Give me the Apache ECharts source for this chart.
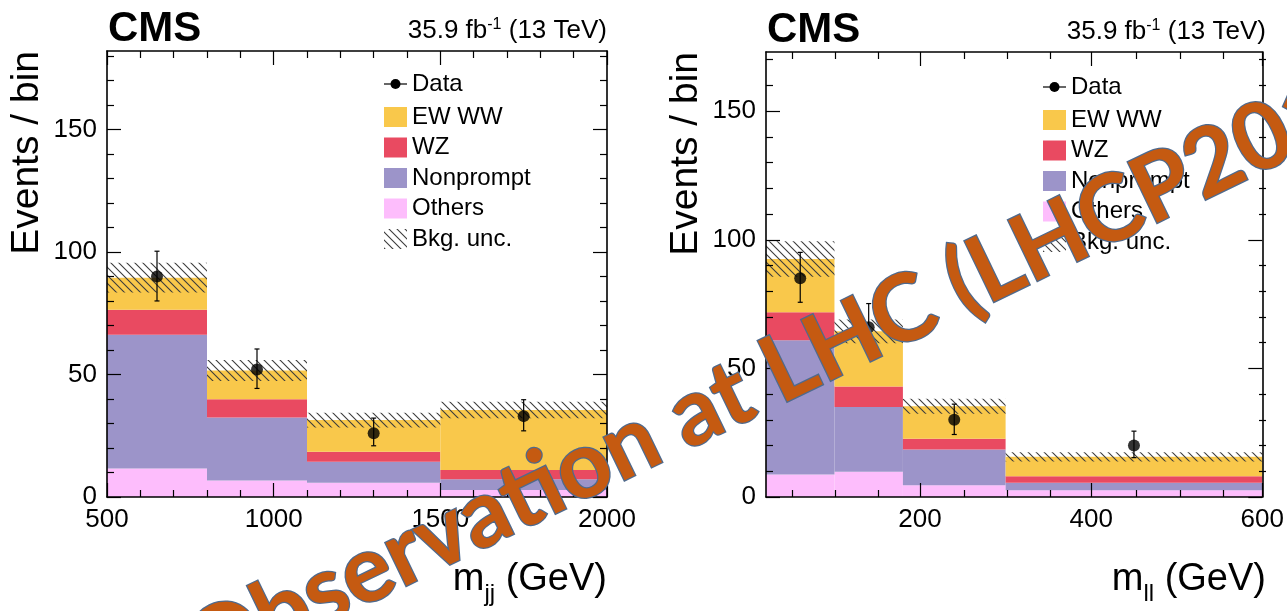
<!DOCTYPE html>
<html>
<head>
<meta charset="utf-8">
<script src="https://cdn.jsdelivr.net/npm/echarts@6/dist/echarts.min.js"></script>
<style>
  html, body { margin: 0; padding: 0; background: #ffffff; }
  #chart { width: 1287px; height: 611px; }
</style>
</head>
<body>
<div id="chart"></div>
<script>
// ---- m_jj distribution (left panel) ----
const mjjEdges      = [500, 800, 1100, 1500, 2000];
const mjjOthers     = [11.6, 6.7, 5.8, 2.9];
const mjjNonprompt  = [54.6, 25.7, 8.6, 4.3];
const mjjWZ         = [10.2, 7.5, 4.1, 3.8];
const mjjEWWW       = [13.1, 11.7, 12.9, 24.5];
const mjjBkgUnc     = [6.1, 4.3, 3.0, 3.4];
const mjjData       = [90, 52, 26, 33];
const mjjDataErrUp  = [10.3, 8.4, 6.2, 6.7];
const mjjDataErrDn  = [10.0, 7.7, 5.1, 6.0];
const mjjTickLabels = [500, 1000, 1500, 2000];

// ---- m_ll distribution (right panel) ----
const mllEdges      = [20, 100, 180, 300, 600];
const mllOthers     = [8.7, 9.8, 4.6, 2.6];
const mllNonprompt  = [52.2, 25.2, 13.9, 2.9];
const mllWZ         = [10.9, 8.0, 4.1, 2.6];
const mllEWWW       = [20.7, 21.4, 12.7, 7.5];
const mllBkgUnc     = [6.9, 4.6, 2.9, 1.8];
const mllData       = [85, 66, 30, 20];
const mllDataErrUp  = [10.1, 9.2, 6.1, 5.6];
const mllDataErrDn  = [9.3, 8.1, 5.7, 4.7];
const mllTickLabels = [200, 400, 600];

const yTickLabels   = [0, 50, 100, 150];
const legendNames   = ['Data', 'EW WW', 'WZ', 'Nonprompt', 'Others', 'Bkg. unc.'];

const FONT = "'Liberation Sans', Arial, Helvetica, sans-serif";
const COLORS = { ewww: '#F9C84B', wz: '#E94A61', nonprompt: '#9C94C9', others: '#FDBDFC' };

const measureCtx = document.createElement('canvas').getContext('2d');
function textWidth(str, font) { measureCtx.font = font; return measureCtx.measureText(str).width; }

function binCenters(edges) { return edges.slice(0, -1).map((e, i) => (e + edges[i + 1]) / 2); }

// stacked layers, bottom to top: each row = [x0, x1, yLow, yHigh]
function stackLayers(edges, comps) {
  const base = new Array(edges.length - 1).fill(0);
  return comps.map(c => c.map((v, i) => {
    const lo = base[i]; base[i] += v;
    return [edges[i], edges[i + 1], lo, base[i]];
  }));
}

function hatchCanvas() {
  const c = document.createElement('canvas');
  c.width = 8; c.height = 8;
  const g = c.getContext('2d');
  g.strokeStyle = '#3c3c3c';
  g.lineWidth = 1.1;
  g.beginPath();
  g.moveTo(-2, -2); g.lineTo(10, 10);
  g.moveTo(-2, 6);  g.lineTo(2, 10);
  g.moveTo(6, -2);  g.lineTo(10, 2);
  g.stroke();
  return c;
}
const HATCH = hatchCanvas();

function rangeTicks(from, to, step, skip) {
  const out = [];
  for (let v = from; v <= to + 1e-9; v += step) if (!skip.includes(v)) out.push(v);
  return out;
}

// panel geometry
const panels = [
  { left: 107, top: 51, width: 500, height: 446, xmin: 500, xmax: 2000, ymax: 182,
    xMajor: mjjTickLabels, xMinor: rangeTicks(600, 1900, 100, mjjTickLabels),
    yMajor: yTickLabels, yMinor: rangeTicks(10, 180, 10, yTickLabels),
    edges: mjjEdges, comps: [mjjOthers, mjjNonprompt, mjjWZ, mjjEWWW], unc: mjjBkgUnc,
    data: mjjData, up: mjjDataErrUp, dn: mjjDataErrDn, xsub: 'jj' },
  { left: 766, top: 52, width: 500, height: 445, xmin: 20, xmax: 600, ymax: 173,
    xMajor: mllTickLabels, xMinor: rangeTicks(50, 550, 50, mllTickLabels),
    yMajor: yTickLabels, yMinor: rangeTicks(10, 170, 10, yTickLabels),
    edges: mllEdges, comps: [mllOthers, mllNonprompt, mllWZ, mllEWWW], unc: mllBkgUnc,
    data: mllData, up: mllDataErrUp, dn: mllDataErrDn, xsub: 'll' }
];

const grids = [], xAxes = [], yAxes = [], series = [], graphics = [];

function axis(gridIndex, min, max, position, ticks, len, labels, line) {
  return {
    type: 'value', gridIndex, min, max, position, z: 10,
    splitLine: { show: false },
    axisLine: { show: line, onZero: false, lineStyle: { color: '#000', width: 1.6 } },
    axisTick: { show: true, inside: true, length: len, customValues: ticks,
                lineStyle: { color: '#000', width: 1.2 } },
    axisLabel: { show: labels, customValues: ticks, color: '#000', fontSize: 26,
                 fontFamily: FONT, margin: 10, showMinLabel: true, showMaxLabel: true,
                 formatter: v => String(v) }
  };
}

function rectItem(params, api) {
  const p0 = api.coord([api.value(0), api.value(3)]);
  const p1 = api.coord([api.value(1), api.value(2)]);
  return { type: 'rect',
           shape: { x: p0[0], y: p0[1], width: p1[0] - p0[0], height: p1[1] - p0[1] },
           style: { fill: api.visual('color') } };
}

function bandItem(params, api) {
  const p0 = api.coord([api.value(0), api.value(3)]);
  const p1 = api.coord([api.value(1), api.value(2)]);
  return { type: 'rect',
           shape: { x: p0[0], y: p0[1], width: p1[0] - p0[0], height: p1[1] - p0[1] },
           style: { fill: { image: HATCH, repeat: 'repeat' } } };
}

function errItem(params, api) {
  const top = api.coord([api.value(0), api.value(2)]);
  const bot = api.coord([api.value(0), api.value(1)]);
  const c = 2.5;
  const ls = { stroke: '#000', lineWidth: 1.2 };
  return { type: 'group', children: [
    { type: 'line', shape: { x1: top[0], y1: top[1], x2: bot[0], y2: bot[1] }, style: ls },
    { type: 'line', shape: { x1: top[0] - c, y1: top[1], x2: top[0] + c, y2: top[1] }, style: ls },
    { type: 'line', shape: { x1: bot[0] - c, y1: bot[1], x2: bot[0] + c, y2: bot[1] }, style: ls }
  ] };
}

panels.forEach((p, k) => {
  const gMain = 2 * k, gMinor = 2 * k + 1;
  const rect = { left: p.left, top: p.top, width: p.width, height: p.height, containLabel: false };
  grids.push(Object.assign({}, rect), Object.assign({}, rect));

  const xi = xAxes.length, yi = yAxes.length;
  xAxes.push(axis(gMain, p.xmin, p.xmax, 'bottom', p.xMajor, 14, true, true));
  xAxes.push(axis(gMain, p.xmin, p.xmax, 'top', p.xMajor, 14, false, true));
  xAxes.push(axis(gMinor, p.xmin, p.xmax, 'bottom', p.xMinor, 7, false, false));
  xAxes.push(axis(gMinor, p.xmin, p.xmax, 'top', p.xMinor, 7, false, false));
  yAxes.push(axis(gMain, 0, p.ymax, 'left', p.yMajor, 14, true, true));
  yAxes.push(axis(gMain, 0, p.ymax, 'right', p.yMajor, 14, false, true));
  yAxes.push(axis(gMinor, 0, p.ymax, 'left', p.yMinor, 7, false, false));
  yAxes.push(axis(gMinor, 0, p.ymax, 'right', p.yMinor, 7, false, false));

  const layers = stackLayers(p.edges, p.comps);
  const layerColors = [COLORS.others, COLORS.nonprompt, COLORS.wz, COLORS.ewww];
  const layerNames = ['Others', 'Nonprompt', 'WZ', 'EW WW'];
  layers.forEach((rows, j) => {
    series.push({ type: 'custom', name: layerNames[j], xAxisIndex: xi, yAxisIndex: yi,
                  renderItem: rectItem, itemStyle: { color: layerColors[j] },
                  data: rows, z: 2, silent: true, animation: false });
  });
  const top = layers[layers.length - 1];
  series.push({ type: 'custom', name: 'Bkg. unc.', xAxisIndex: xi, yAxisIndex: yi,
                renderItem: bandItem, z: 3, silent: true, animation: false,
                data: top.map((r, i) => [r[0], r[1], r[3] - p.unc[i], r[3] + p.unc[i]]) });

  const cx = binCenters(p.edges);
  series.push({ type: 'custom', name: 'Data errors', xAxisIndex: xi, yAxisIndex: yi,
                renderItem: errItem, z: 4, silent: true, animation: false,
                data: cx.map((x, i) => [x, p.data[i] - p.dn[i], p.data[i] + p.up[i]]) });
  series.push({ type: 'scatter', name: 'Data', xAxisIndex: xi, yAxisIndex: yi,
                symbol: 'circle', symbolSize: 12, itemStyle: { color: '#000' },
                z: 5, silent: true, animation: false,
                data: cx.map((x, i) => [x, p.data[i]]) });

  // --- texts around the frame ---
  const R = p.left + p.width;
  graphics.push({ type: 'text', x: p.left + 1, y: p.top - 22, z: 20,
    style: { text: 'CMS', font: `bold 42px ${FONT}`, fill: '#000', align: 'left', verticalAlign: 'middle' } });

  const fBig = `26px ${FONT}`, fSup = `16px ${FONT}`;
  const partB = ' (13 TeV)', partS = '-1', partA = '35.9 fb';
  const wB = textWidth(partB, fBig), wS = textWidth(partS, fSup);
  graphics.push({ type: 'text', x: R, y: p.top - 20, z: 20,
    style: { text: partB, font: fBig, fill: '#000', align: 'right', verticalAlign: 'middle' } });
  graphics.push({ type: 'text', x: R - wB, y: p.top - 26, z: 20,
    style: { text: partS, font: fSup, fill: '#000', align: 'right', verticalAlign: 'middle' } });
  graphics.push({ type: 'text', x: R - wB - wS, y: p.top - 20, z: 20,
    style: { text: partA, font: fBig, fill: '#000', align: 'right', verticalAlign: 'middle' } });

  // y title
  graphics.push({ type: 'text', x: p.left - 80, y: p.top, rotation: Math.PI / 2, z: 20,
    style: { text: 'Events / bin', font: `39px ${FONT}`, fill: '#000', align: 'right', verticalAlign: 'middle' } });

  // x title: m_sub (GeV)
  const fT = `38px ${FONT}`, fSub = `24px ${FONT}`;
  const tail = ' (GeV)';
  const wTail = textWidth(tail, fT), wSub = textWidth(p.xsub, fSub);
  const yT = p.top + p.height + 83;
  graphics.push({ type: 'text', x: R, y: yT, z: 20,
    style: { text: tail, font: fT, fill: '#000', align: 'right', verticalAlign: 'middle' } });
  graphics.push({ type: 'text', x: R - wTail, y: yT + 14, z: 20,
    style: { text: p.xsub, font: fSub, fill: '#000', align: 'right', verticalAlign: 'middle' } });
  graphics.push({ type: 'text', x: R - wTail - wSub, y: yT, z: 20,
    style: { text: 'm', font: fT, fill: '#000', align: 'right', verticalAlign: 'middle' } });

  // legend
  const lx = R - 223, ly = p.top + 33 + k * 2, step = 30.5;
  const fL = `24px ${FONT}`;
  graphics.push({ type: 'line', z: 20, shape: { x1: lx, y1: ly, x2: lx + 23, y2: ly },
                  style: { stroke: '#000', lineWidth: 1.2 } });
  graphics.push({ type: 'circle', z: 20, shape: { cx: lx + 11.5, cy: ly, r: 5 }, style: { fill: '#000' } });
  const swatches = [COLORS.ewww, COLORS.wz, COLORS.nonprompt, COLORS.others, null];
  legendNames.forEach((name, i) => {
    const cy = i === 0 ? ly : ly + 33 + (i - 1) * step;
    if (i > 0) {
      const sw = swatches[i - 1];
      graphics.push({ type: 'rect', z: 20, shape: { x: lx, y: cy - 10, width: 23, height: 20 },
        style: sw ? { fill: sw } : { fill: { image: HATCH, repeat: 'repeat' } } });
    }
    graphics.push({ type: 'text', x: lx + 28, y: cy, z: 20,
      style: { text: name, font: fL, fill: '#000', align: 'left', verticalAlign: 'middle' } });
  });
});

// ---- conference banner written diagonally across the figure ----
const wmText = 'Observation at LHC (LHCP2017)';
const wmSize = 93;
const wmFont = `bold ${wmSize}px Lato, 'Open Sans', sans-serif`;
const theta = 25.8 * Math.PI / 180;
const dir = [Math.cos(theta), -Math.sin(theta)];
const down = [Math.sin(theta), Math.cos(theta)];
const prefixW = textWidth('Observation at ', wmFont);
const anchor = [782, 408];
const bOff = 0.36 * wmSize;
graphics.push({
  type: 'text', z: 50,
  x: anchor[0] - prefixW * dir[0] - bOff * down[0],
  y: anchor[1] - prefixW * dir[1] - bOff * down[1],
  rotation: theta,
  style: { text: wmText, font: wmFont, fill: '#C55A11', stroke: '#4E6A8E', lineWidth: 2.5,
           align: 'left', verticalAlign: 'middle',
           shadowColor: 'rgba(0,0,0,0.35)', shadowBlur: 4, shadowOffsetX: 2, shadowOffsetY: 2 }
});

const chart = echarts.init(document.getElementById('chart'), null, { renderer: 'canvas' });
chart.setOption({
  backgroundColor: '#ffffff',
  animation: false,
  grid: grids,
  xAxis: xAxes,
  yAxis: yAxes,
  series: series,
  graphic: { elements: graphics }
});
</script>
</body>
</html>
